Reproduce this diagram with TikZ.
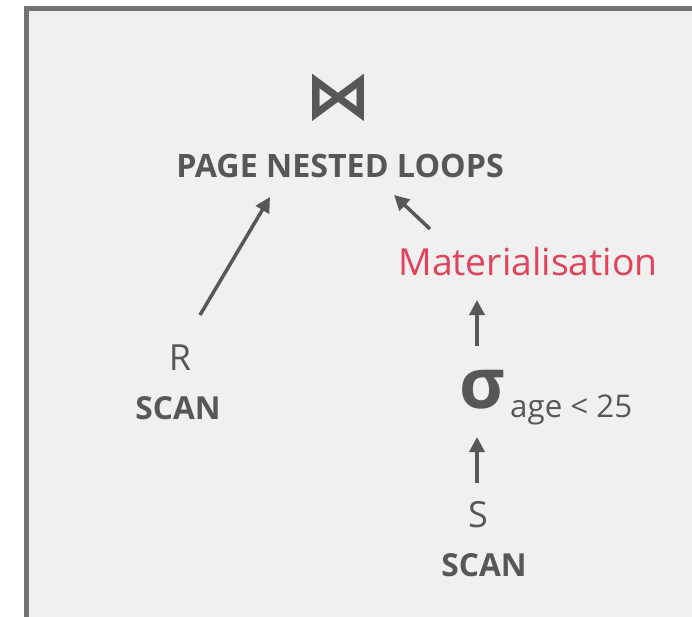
\documentclass[tikz,border=0pt]{standalone}
\usepackage{fontspec}
\setmainfont{Open Sans}
\newfontfamily\symbfont{DejaVu Sans}
\usetikzlibrary{arrows.meta}
\definecolor{boxgray}{HTML}{F0F0F0}
\definecolor{framegray}{HTML}{757171}
\definecolor{textgray}{HTML}{575757}
\definecolor{matred}{HTML}{E0435A}
\tikzset{
    op/.style={text=textgray, font=\bfseries\fontsize{31.7}{36}\selectfont, inner sep=0pt},
    rel/.style={text=textgray, font=\fontsize{36}{42}\selectfont, inner sep=0pt},
    flow/.style={-{Triangle[length=15pt,width=15pt]}, line width=3.5pt, textgray}
}
\begin{document}
\begin{tikzpicture}[x=1pt,y=-1pt]
    \useasboundingbox (0,0) rectangle (692,617);
    \clip (0,0) rectangle (692,617);
    \fill[boxgray] (24,6) rectangle (700,630);
    \draw[framegray, line width=5pt] (26.5,630) -- (26.5,8.5) -- (700,8.5);
    % join operator
    \node[text=textgray, font=\symbfont\bfseries\fontsize{66}{66}\selectfont, inner sep=0pt] (join) at (338,98) {⋈};
    \node[op, font=\bfseries\fontsize{32.2}{38}\selectfont] (loops) at (340,166) {PAGE NESTED LOOPS};
    % left input
    \node[rel] (r) at (180,358) {R};
    \node[op] (rscan) at (178,408) {SCAN};
    % right input
    \node[rel, text=matred, font=\fontsize{37.3}{42}\selectfont] (mat) at (528,262) {Materialisation};
    \node[rel, font=\bfseries\fontsize{70}{70}\selectfont] (sigma) at (482,390) {σ};
    \node[rel, font=\fontsize{31.3}{36}\selectfont, anchor=base west] (cond) at (510,417) {age < 25};
    \node[rel] (s) at (478,515) {S};
    \node[op] (sscan) at (484,565) {SCAN};
    % arrows
    \draw[flow] ([shift={(20,-43)}]r.center) -- ([shift={(-70,31)}]loops.center);
    \draw[flow] ([shift={(-98,-33)}]mat.center) -- ([shift={(54,29)}]loops.center);
    \draw[flow] ([shift={(-5,-44)}]sigma.center) -- ([shift={(-51,38)}]mat.center);
    \draw[flow] ([shift={(-1,-32)}]s.center) -- ([shift={(-5,47)}]sigma.center);
\end{tikzpicture}
\end{document}
